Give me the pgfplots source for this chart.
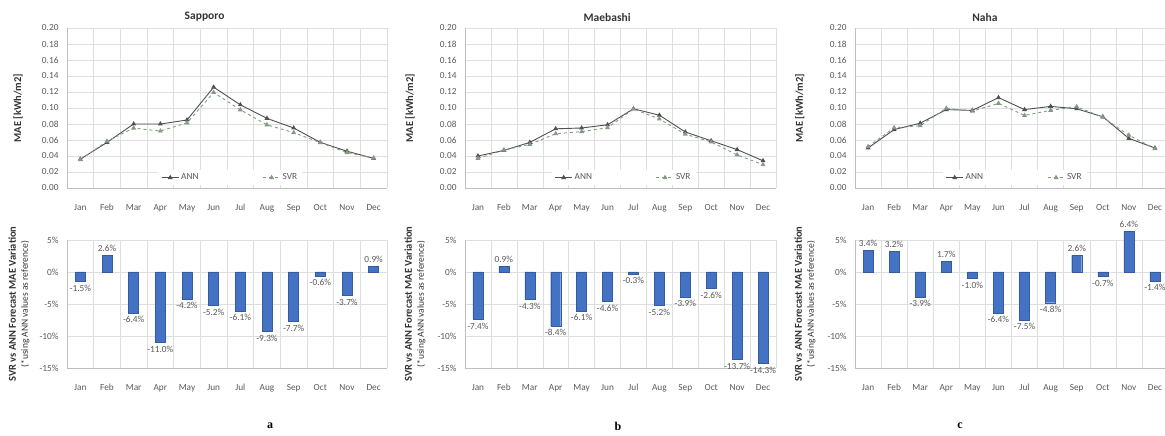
\documentclass[border=0pt]{standalone}
\usepackage{fontspec}
\setmainfont{Carlito}
\newfontfamily\letterfont{Liberation Serif}
\usepackage{pgfplots}
\pgfplotsset{compat=1.18}
\definecolor{annC}{RGB}{80,80,80}
\definecolor{svrC}{RGB}{130,155,130}
\definecolor{barC}{RGB}{68,114,196}
\definecolor{gridC}{RGB}{222,222,222}
\definecolor{txtC}{RGB}{89,89,89}
\newcommand\tfont{\fontsize{9.3}{10}\selectfont}
\pgfplotsset{
  base/.style={scale only axis, anchor=south west, xmin=0.5, xmax=12.5,
    xtick={1,...,12}, xticklabels={Jan,Feb,Mar,Apr,May,Jun,Jul,Aug,Sep,Oct,Nov,Dec},
    minor xtick={0.5,1.5,...,12.5},
    axis x line*=bottom, axis y line*=left, axis line style={-, black!25},
    major tick length=0pt, minor tick length=0pt,
    tick label style={font=\tfont, text=txtC},
    /pgf/number format/assume math mode=true,
    ymajorgrids, xminorgrids, grid style={gridC, line width=0.5pt},
    minor grid style={gridC, line width=0.5pt},
    xticklabel shift=13pt, yticklabel shift=5pt},
  mae/.style={base, height=160pt, ymin=0, ymax=0.20,
    ytick={0,0.02,0.04,0.06,0.08,0.10,0.12,0.14,0.16,0.18,0.20},
    yticklabel style={/pgf/number format/.cd, fixed, fixed zerofill, precision=2},
    title style={anchor=south, yshift=-3pt, font=\fontsize{11.5}{12}\selectfont\bfseries, text=black!80},
    ylabel={\bfseries MAE [kWh/m2]}, ylabel style={font=\fontsize{10.5}{11}\selectfont, text=black!80, anchor=center},
    legend style={at={(0.51,0.015)}, anchor=south, legend columns=2, draw=none, fill=white,
      font=\tfont, text=txtC, /tikz/every even column/.append style={column sep=62pt}},
    legend image post style={mark size=2pt}},
  var/.style={base, height=128pt, ymin=-15, ymax=5, ytick={-15,-10,-5,0,5},
    yticklabel={\pgfmathprintnumber{\tick}\%}, clip=false,
    ybar, bar width=10pt, bar shift=0pt,
    nodes near coords={\pgfmathprintnumber[fixed,fixed zerofill,precision=1]{\pgfplotspointmeta}\%},
    every node near coord/.append style={font=\tfont, text=txtC},
    ylabel={{\bfseries SVR vs ANN Forecast MAE Variation}\\{\fontsize{9.5}{10.5}\selectfont(*using ANN values as reference)}},
    ylabel style={font=\fontsize{10.5}{12}\selectfont, text=black!80, align=center, anchor=center}},
  annS/.style={annC, line width=0.9pt, mark=triangle*, mark size=2pt, mark options={solid, fill=annC}},
  svrS/.style={svrC, line width=0.9pt, dashed, mark=triangle*, mark size=2pt, mark options={solid, fill=svrC}},
  barS/.style={fill=barC, draw=barC!80!black}
}
\begin{document}
\begin{tikzpicture}
\useasboundingbox (0pt,0pt) rectangle (1165pt,436pt);

% ---------------- a: Sapporo
\begin{axis}[mae, at={(67pt,248pt)}, width=320pt, title={Sapporo},
  title style={at={(0.43,1)}}, ylabel style={at={(axis description cs:-0.153,0.5)}}]
  \addplot[annS] coordinates {(1,0.036) (2,0.057) (3,0.080) (4,0.080) (5,0.085) (6,0.126)
    (7,0.104) (8,0.087) (9,0.075) (10,0.057) (11,0.046) (12,0.037)};
  \addplot[svrS] coordinates {(1,0.0355) (2,0.0585) (3,0.0749) (4,0.0712) (5,0.0814) (6,0.1194)
    (7,0.0977) (8,0.0789) (9,0.0692) (10,0.0567) (11,0.0443) (12,0.0373)};
  \legend{ANN,SVR}
\end{axis}
\begin{axis}[var, at={(67pt,68pt)}, width=320pt,
  ylabel style={at={(axis description cs:-0.15,0.5)}}]
  \addplot[barS] coordinates {(1,-1.5) (2,2.6) (3,-6.4) (4,-11.0) (5,-4.2) (6,-5.2)
    (7,-6.1) (8,-9.3) (9,-7.7) (10,-0.6) (11,-3.7) (12,0.9)};
\end{axis}

% ---------------- b: Maebashi
\begin{axis}[mae, at={(465pt,248pt)}, width=311pt, title={Maebashi},
  title style={at={(0.457,1)}}, ylabel style={at={(axis description cs:-0.177,0.5)}}]
  \addplot[annS] coordinates {(1,0.040) (2,0.047) (3,0.057) (4,0.074) (5,0.075) (6,0.079)
    (7,0.099) (8,0.091) (9,0.070) (10,0.059) (11,0.048) (12,0.034)};
  \addplot[svrS] coordinates {(1,0.0370) (2,0.0474) (3,0.0545) (4,0.0678) (5,0.0704) (6,0.0754)
    (7,0.0987) (8,0.0863) (9,0.0673) (10,0.0575) (11,0.0414) (12,0.0291)};
  \legend{ANN,SVR}
\end{axis}
\begin{axis}[var, at={(465pt,68pt)}, width=311pt,
  ylabel style={at={(axis description cs:-0.161,0.5)}}]
  \addplot[barS] coordinates {(1,-7.4) (2,0.9) (3,-4.3) (4,-8.4) (5,-6.1) (6,-4.6)
    (7,-0.3) (8,-5.2) (9,-3.9) (10,-2.6) (11,-13.7) (12,-14.3)};
\end{axis}

% ---------------- c: Naha
\begin{axis}[mae, at={(855pt,248pt)}, width=313pt, title={Naha},
  title style={at={(0.415,1)}}, ylabel style={at={(axis description cs:-0.176,0.5)}}]
  \addplot[annS] coordinates {(1,0.050) (2,0.073) (3,0.081) (4,0.098) (5,0.097) (6,0.113)
    (7,0.098) (8,0.102) (9,0.099) (10,0.089) (11,0.062) (12,0.050)};
  \addplot[svrS] coordinates {(1,0.0517) (2,0.0753) (3,0.0778) (4,0.0997) (5,0.0960) (6,0.1058)
    (7,0.0907) (8,0.0971) (9,0.1016) (10,0.0884) (11,0.0660) (12,0.0492)};
  \legend{ANN,SVR}
\end{axis}
\begin{axis}[var, at={(855pt,68pt)}, width=313pt,
  ylabel style={at={(axis description cs:-0.16,0.5)}}]
  \addplot[barS] coordinates {(1,3.4) (2,3.2) (3,-3.9) (4,1.7) (5,-1.0) (6,-6.4)
    (7,-7.5) (8,-4.8) (9,2.6) (10,-0.7) (11,6.4) (12,-1.4)};
\end{axis}

\node[font=\letterfont\fontsize{12}{13}\selectfont\bfseries] at (270pt,10pt) {a};
\node[font=\letterfont\fontsize{12}{13}\selectfont\bfseries] at (618pt,10pt) {b};
\node[font=\letterfont\fontsize{12}{13}\selectfont\bfseries] at (960pt,10pt) {c};
\end{tikzpicture}
\end{document}
